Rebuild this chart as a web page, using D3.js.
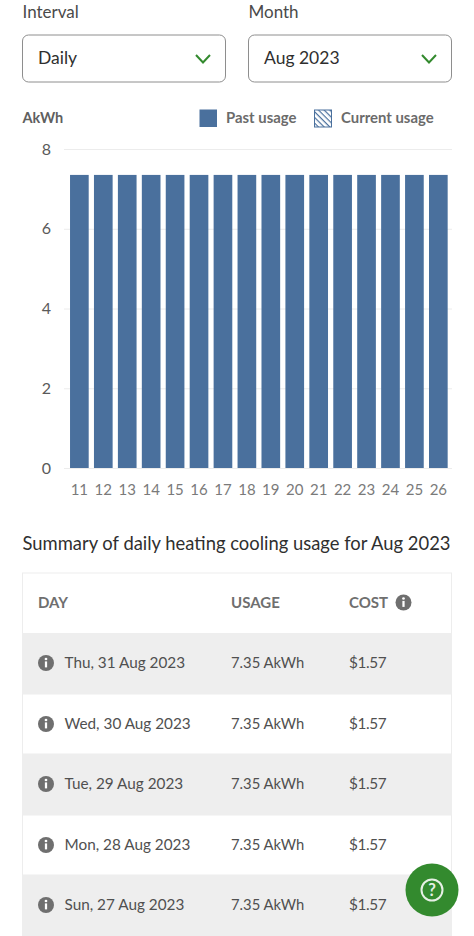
<!DOCTYPE html>
<html><head><meta charset="utf-8">
<script src="https://cdn.jsdelivr.net/npm/d3@7/dist/d3.min.js"></script>
<style>html,body{margin:0;padding:0;background:#fff;overflow:hidden}svg{display:block}text{font-family:Lato,"Open Sans",sans-serif}</style>
</head><body><div id="c"></div>
<script>
const days=["11","12","13","14","15","16","17","18","19","20","21","22","23","24","25","26"];
const usage=[7.35,7.35,7.35,7.35,7.35,7.35,7.35,7.35,7.35,7.35,7.35,7.35,7.35,7.35,7.35,7.35];
const yTicks=[0,2,4,6,8];
const legendLabels=["Past usage","Current usage"];
const rowDays=["Thu, 31 Aug 2023","Wed, 30 Aug 2023","Tue, 29 Aug 2023","Mon, 28 Aug 2023","Sun, 27 Aug 2023"];
const rowUsage=["7.35 AkWh","7.35 AkWh","7.35 AkWh","7.35 AkWh","7.35 AkWh"];
const rowCost=["$1.57","$1.57","$1.57","$1.57","$1.57"];
const headers=["DAY","USAGE","COST"];

const svg=d3.select("#c").append("svg").attr("width",474).attr("height",936);
const defs=svg.append("defs");
const pat=defs.append("pattern").attr("id","hatch").attr("width",4).attr("height",4).attr("patternUnits","userSpaceOnUse").attr("patternTransform","rotate(45)");
pat.append("rect").attr("width",4).attr("height",4).attr("fill","#fff");
pat.append("rect").attr("width",4).attr("height",1.2).attr("fill","#4a709d");

function txt(x,y,s,size,fill,opt={}){return svg.append("text").attr("x",x).attr("y",y).attr("font-size",size).attr("fill",fill).attr("text-anchor",opt.a||"start").attr("font-weight",opt.w||400).text(s);}
function info(cx,cy,r){
  const g=svg.append("g");
  g.append("circle").attr("cx",cx).attr("cy",cy).attr("r",r).attr("fill","#6f6f6f");
  g.append("circle").attr("cx",cx).attr("cy",cy-r*0.5).attr("r",r*0.17).attr("fill","#fff");
  g.append("rect").attr("x",cx-r*0.14).attr("y",cy-r*0.2).attr("width",r*0.28).attr("height",r*0.75).attr("fill","#fff");
}
// form controls
txt(22.5,18,"Interval",17,"#4a4a4a");
txt(248.5,18,"Month",17,"#4a4a4a");
[[22.5,"Daily"],[248.5,"Aug 2023"]].forEach(([x,s])=>{
  svg.append("rect").attr("x",x).attr("y",35).attr("width",203).attr("height",47).attr("rx",6).attr("fill","#fff").attr("stroke","#8e8e8e").attr("stroke-width",1);
  txt(x+15.5,64,s,17.5,"#2f2f2f");
  svg.append("path").attr("d",`M${x+173.5} 55 L${x+180.5} 62.5 L${x+187.5} 55`).attr("fill","none").attr("stroke","#338a2e").attr("stroke-width",2);
});
// legend
txt(22.5,123,"AkWh",14.5,"#5f5f5f",{w:700});
svg.append("rect").attr("x",199.5).attr("y",109.5).attr("width",17.5).attr("height",17.5).attr("fill","#4a709d");
txt(226,123,legendLabels[0],14.9,"#6b6b6b",{w:700});
svg.append("rect").attr("x",314.5).attr("y",110).attr("width",17).attr("height",17).attr("fill","url(#hatch)").attr("stroke","#4a709d").attr("stroke-width",1);
txt(341,123,legendLabels[1],14.9,"#6b6b6b",{w:700});
// chart
const x=d3.scaleBand().domain(days).range([67.4,450.3]).paddingInner(0.22).paddingOuter(0.11);
const y=d3.scaleLinear().domain([0,8]).range([468,149]);
const gy=svg.append("g").attr("transform","translate(64,0)").call(d3.axisLeft(y).tickValues(yTicks).tickSize(-388).tickPadding(13));
gy.select(".domain").remove();
gy.selectAll(".tick line").attr("stroke","#ececec").attr("stroke-width",1);
gy.selectAll(".tick text").attr("font-size",16).attr("fill","#5a5a5a").attr("font-family","Lato");
svg.append("g").selectAll("rect").data(usage).join("rect")
  .attr("x",(d,i)=>x(days[i])).attr("width",x.bandwidth()).attr("y",d=>y(d)).attr("height",d=>y(0)-y(d)).attr("fill","#4a709d");
const gx=svg.append("g").attr("transform","translate(0,468)").call(d3.axisBottom(x).tickSize(0).tickPadding(16));
gx.select(".domain").remove();
gx.selectAll(".tick text").attr("font-size",15).attr("fill","#7a7a7a").attr("font-family","Lato");
// summary
txt(22.5,550,"Summary of daily heating cooling usage for Aug 2023",18.4,"#2f2f2f");
// table
const rowTops=[633,694,754,815,875];
svg.append("rect").attr("x",22.5).attr("y",573).attr("width",429).attr("height",363).attr("fill","#fff").attr("stroke","#ededed").attr("stroke-width",1);
txt(38,607.5,headers[0],15,"#6f6f6f",{w:700});
txt(231,607.5,headers[1],15,"#6f6f6f",{w:700});
txt(349,607.5,headers[2],15,"#6f6f6f",{w:700});
info(403.5,602.5,8);
rowTops.forEach((t,i)=>{
  const h=(i<4?rowTops[i+1]:936)-t;
  svg.append("rect").attr("x",22).attr("y",t).attr("width",430).attr("height",h).attr("fill",i%2==0?"#eeeeee":"#ffffff");
  if(i%2)svg.append("rect").attr("x",22.5).attr("y",t).attr("width",429).attr("height",h).attr("fill","none").attr("stroke","#ededed");
  const b=t+35;
  info(46,b-5,8);
  txt(64.5,b,rowDays[i],15.3,"#505050");
  txt(231,b,rowUsage[i],14.8,"#505050");
  txt(349,b,rowCost[i],15.3,"#505050").attr("letter-spacing",-0.4);
});
// help button
svg.append("circle").attr("cx",432).attr("cy",890).attr("r",26.5).attr("fill","#338a2e");
svg.append("circle").attr("cx",432).attr("cy",890).attr("r",10.5).attr("fill","none").attr("stroke","#e6f0e5").attr("stroke-width",2);
svg.append("text").attr("x",432).attr("y",896).attr("text-anchor","middle").attr("font-size",16.5).attr("font-weight",700).attr("fill","#e6f0e5").text("?");
</script></body></html>
